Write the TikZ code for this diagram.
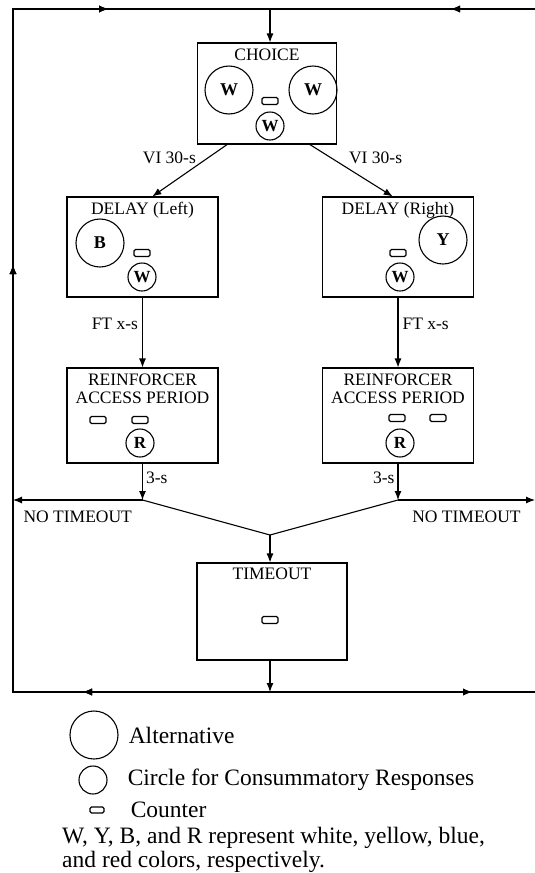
\documentclass[tikz,border=0pt]{standalone}
\usepackage{fontspec}
\setmainfont{Liberation Serif}
\usetikzlibrary{arrows.meta, positioning, decorations.markings}

\begin{document}
\begin{tikzpicture}[
    x=1pt, y=-1pt,
    box/.style={rectangle, draw, line width=1.1pt, minimum width=151pt, minimum height=100pt, inner sep=0pt},
    title/.style={font=\fontsize{17.5}{18}\selectfont, align=center, inner sep=0pt},
    alt/.style={circle, draw, line width=1.1pt, minimum size=48pt, inner sep=0pt, font=\fontsize{18}{18}\selectfont\bfseries},
    cons/.style={circle, draw, line width=1.1pt, minimum size=28pt, inner sep=0pt, font=\fontsize{17}{17}\selectfont\bfseries},
    counter/.style={rectangle, draw, rounded corners=1.5pt, minimum width=16pt, minimum height=7pt, inner sep=0pt, line width=1.1pt},
    lbl/.style={font=\fontsize{17.5}{18}\selectfont, inner sep=0pt},
    legend/.style={font=\fontsize{23.5}{23.5}\selectfont, inner sep=0pt},
    line/.style={line width=1.1pt},
    arrow/.style={-{Latex[length=9pt, width=7pt]}, line width=1.1pt},
    midarrow/.style={postaction={decorate}, decoration={markings, mark=at position #1 with {\arrow{Latex[length=9pt, width=7pt]}}}}
]
\useasboundingbox (0,0) rectangle (535,873);

% Outer loop
\coordinate (topmid) at (270,9);
\coordinate (botmid) at (270,692);
\coordinate (tl) at (13,9);
\coordinate (bl) at (13,692);
\coordinate (tr) at (537,9);
\coordinate (br) at (537,692);

% Choice
\node[box, minimum width=139pt, minimum height=101pt] (choice) at (267,93.5) {};
\node[title, below=6pt] at (choice.north) {CHOICE};
\node[alt] (cwl) at (229,90) {W};
\node[alt] (cwr) at (313,90) {W};
\node[counter] (cc) at (270,101) {};
\node[cons] (cw) at (270,126) {W};

% Delay
\node[box] (delayl) at (142.5,247) {};
\node[title, below=6pt] at (delayl.north) {DELAY (Left)};
\node[alt] (db) at (100,243) {B};
\node[counter] (dlc) at (142,253) {};
\node[cons] (dlw) at (142,277) {W};

\node[box] (delayr) at (398,247) {};
\node[title, below=6pt] at (delayr.north) {DELAY (Right)};
\node[alt] (dy) at (443,240) {Y};
\node[counter] (drc) at (398,253) {};
\node[cons] (drw) at (400,277) {W};

% Reinforcer access
\node[box, minimum height=95pt] (reinfl) at (142.5,415.5) {};
\node[title, below=6pt] at (reinfl.north) {REINFORCER\\ACCESS PERIOD};
\node[counter] (rlc1) at (98,420) {};
\node[counter] (rlc2) at (140,420) {};
\node[cons] (rlr) at (140,443) {R};

\node[box, minimum height=95pt] (reinfr) at (398,415.5) {};
\node[title, below=6pt] at (reinfr.north) {REINFORCER\\ACCESS PERIOD};
\node[counter] (rrc1) at (397,418) {};
\node[counter] (rrc2) at (438,418) {};
\node[cons] (rrr) at (400,443) {R};

% Timeout
\node[box, minimum width=150pt, minimum height=97pt] (timeout) at (272,611.5) {};
\node[title, below=5pt] at (timeout.north) {TIMEOUT};
\node[counter] (tc) at (270,620) {};

\coordinate (jl) at (142.5,500);
\coordinate (jr) at (398,500);
\coordinate (merge) at (270,535);
\coordinate (redge) at (535,500);

% Arrows
\draw[arrow] (topmid) -- (topmid |- choice.north);
\draw[arrow] (choice.-128) -- node[lbl, pos=0.25, left=12pt] {VI 30-s} (delayl.79);
\draw[arrow] (choice.-50) -- node[lbl, pos=0.25, right=18pt] {VI 30-s} (delayr.96);
\draw[arrow] (delayl) -- node[lbl, pos=0.37, left=4pt] {FT x-s} (reinfl);
\draw[arrow] (delayr) -- node[lbl, pos=0.37, right=4pt] {FT x-s} (reinfr);
\draw[arrow] (reinfl) -- node[lbl, pos=0.4, right=3pt] {3-s} (jl);
\draw[arrow] (reinfr) -- node[lbl, pos=0.4, left=3pt] {3-s} (jr);
\draw[arrow] (jl) -- node[lbl, below=10pt] {NO TIMEOUT} (jl -| tl);
\draw[arrow] (jr) -- node[lbl, below=10pt] {NO TIMEOUT} (redge);
\draw[line] (jl) -- (merge) -- (jr);
\draw[arrow] (merge) -- (merge |- timeout.north);
\draw[arrow] (timeout.south -| botmid) -- (botmid);
\draw[line, midarrow=187pt, midarrow=684pt, midarrow=1035pt] (botmid) -- (bl) -- (tl) -- (topmid);
\draw[line, midarrow=202pt, midarrow=1036pt] (botmid) -- (br) -- (tr) -- (topmid);

% Legend
\node[alt] (legalt) at (94,735) {};
\node[legend, right=10pt of legalt] {Alternative};
\node[cons] (legcons) at (93,780) {};
\node[legend, right=20pt of legcons] {Circle for Consummatory Responses};
\node[counter, minimum width=14pt, minimum height=6pt] (legcnt) at (97,810) {};
\node[legend, right=26pt of legcnt] {Counter};
\node[legend, anchor=north west, align=left] (legnote) at (62,827) {W, Y, B, and R represent white, yellow, blue,\\and red colors, respectively.};

\end{tikzpicture}
\end{document}
